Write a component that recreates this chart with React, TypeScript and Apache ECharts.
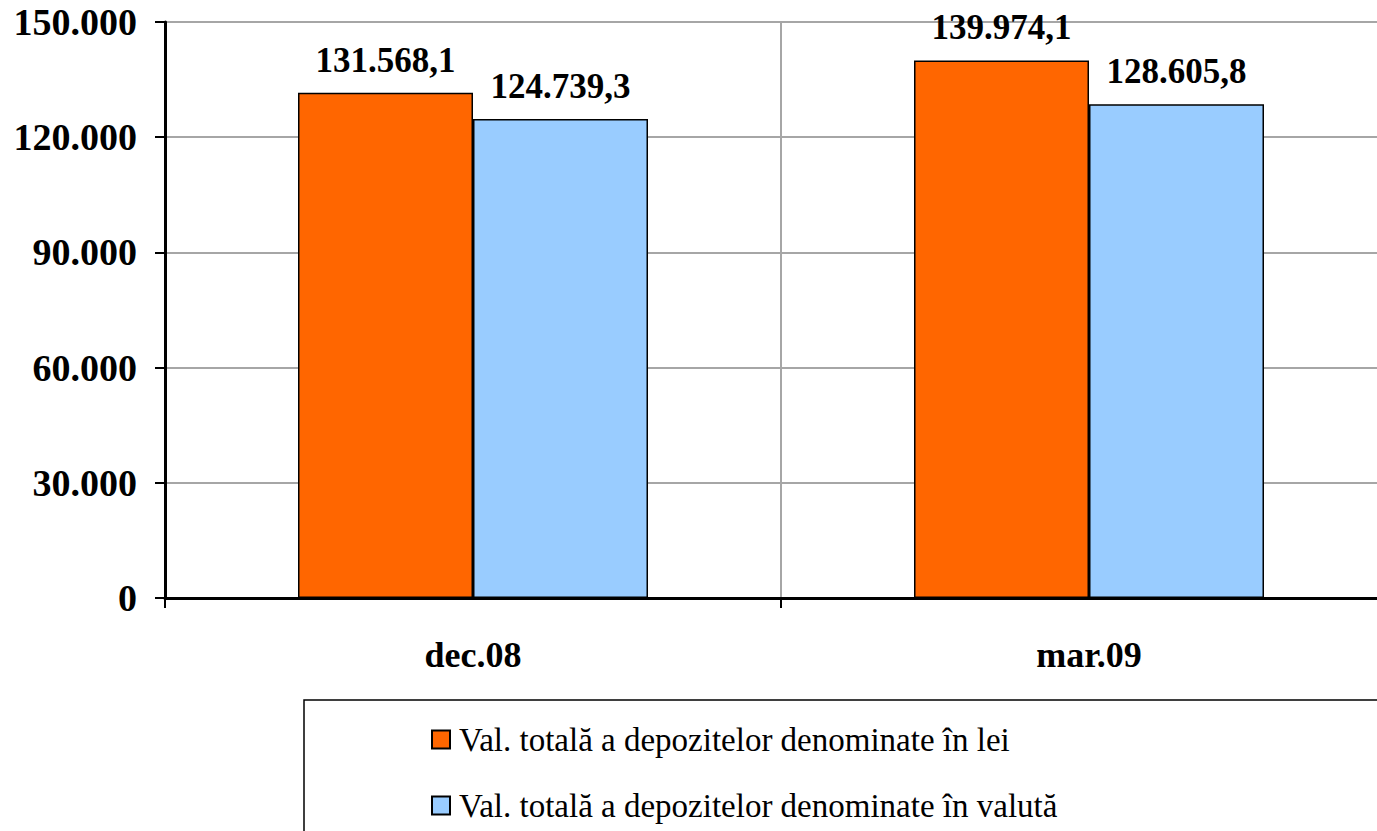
import React, { useEffect, useRef } from "react";
import * as echarts from "echarts";

const categories = ["dec.08", "mar.09"];
const seriesNames = [
  "Val. totală a depozitelor denominate în lei",
  "Val. totală a depozitelor denominate în valută",
];
const leiValues = [131568.1, 139974.1];
const valutaValues = [124739.3, 128605.8];
const yTicks = [0, 30000, 60000, 90000, 120000, 150000];

const FONT = "Liberation Serif";

function fmtTick(v: number): string {
  return String(Math.round(v)).replace(/\B(?=(\d{3})+(?!\d))/g, ".");
}
function fmtLabel(v: number): string {
  const [i, d] = v.toFixed(1).split(".");
  return i.replace(/\B(?=(\d{3})+(?!\d))/g, ".") + "," + d;
}

export default function App() {
  const ref = useRef<HTMLDivElement>(null);
  useEffect(() => {
    if (!ref.current) return;
    const chart = echarts.init(ref.current, undefined, { renderer: "svg" });
    const label = {
      show: true,
      position: "top",
      distance: 15,
      fontFamily: FONT,
      fontWeight: "bold",
      fontSize: 35,
      color: "#000",
      formatter: (p: any) => fmtLabel(p.value),
    };
    chart.setOption({
      animation: false,
      backgroundColor: "#fff",
      grid: { left: 165, top: 22, bottom: 233, right: 0, containLabel: false },
      xAxis: {
        type: "category",
        data: categories,
        boundaryGap: true,
        axisLine: { show: true, lineStyle: { color: "#000", width: 3 } },
        axisTick: { show: true, length: 10, lineStyle: { color: "#000", width: 2 } },
        splitLine: { show: true, lineStyle: { color: "#a6a6a6", width: 2 } },
        axisLabel: {
          margin: 39,
          fontFamily: FONT,
          fontWeight: "bold",
          fontSize: 36,
          color: "#000",
        },
      },
      yAxis: {
        type: "value",
        min: yTicks[0],
        max: yTicks[yTicks.length - 1],
        interval: 30000,
        axisLine: { show: true, lineStyle: { color: "#000", width: 3 } },
        axisTick: { show: true, length: 10, lineStyle: { color: "#000", width: 2 } },
        splitLine: { show: true, lineStyle: { color: "#a6a6a6", width: 2 } },
        axisLabel: {
          margin: 28,
          fontFamily: FONT,
          fontWeight: "bold",
          fontSize: 38,
          color: "#000",
          formatter: (v: number) => fmtTick(v),
        },
      },
      legend: {
        orient: "vertical",
        left: 426,
        top: 718,
        itemWidth: 18,
        itemHeight: 18,
        itemGap: 33,
        icon: "rect",
        textStyle: {
          fontFamily: FONT,
          fontSize: 33,
          lineHeight: 33,
          color: "#000",
          padding: [0, 0, 0, 4],
        },
        data: seriesNames,
      },
      graphic: [
        {
          type: "rect",
          shape: { x: 304, y: 700, width: 1200, height: 300 },
          style: { fill: "none", stroke: "#000", lineWidth: 1.5 },
          silent: true,
        },
      ],
      series: [
        {
          name: seriesNames[0],
          type: "bar",
          data: leiValues,
          barWidth: 175,
          barGap: "0%",
          itemStyle: { color: "#FF6600", borderColor: "#000", borderWidth: 1.5 },
          label,
        },
        {
          name: seriesNames[1],
          type: "bar",
          data: valutaValues,
          barWidth: 175,
          barGap: "0%",
          itemStyle: { color: "#99CCFF", borderColor: "#000", borderWidth: 1.5 },
          label,
        },
      ],
    });
    return () => chart.dispose();
  }, []);
  return (
    <div
      style={{
        position: "absolute",
        left: 0,
        top: 0,
        width: 1377,
        height: 831,
        overflow: "hidden",
      }}
    >
      <div ref={ref} style={{ width: 1397, height: 831 }} />
    </div>
  );
}
